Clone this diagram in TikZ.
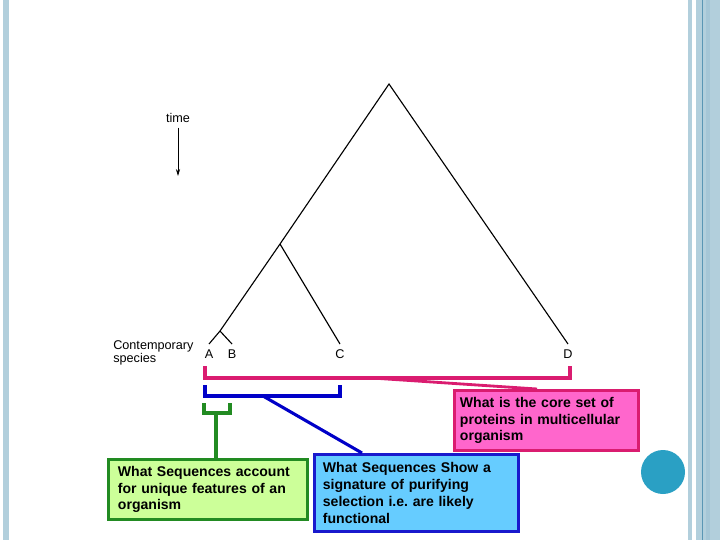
\documentclass[tikz,border=0pt]{standalone}
\usepackage{fontspec}
\setmainfont{Liberation Sans}
\usetikzlibrary{arrows.meta, calc}
\definecolor{stripblue}{RGB}{178,207,220}
\definecolor{stripdark}{RGB}{90,150,180}
\definecolor{dotblue}{RGB}{42,160,196}
\definecolor{pinkline}{RGB}{218,28,112}
\definecolor{pinkfill}{RGB}{255,102,204}
\definecolor{blueline}{RGB}{0,0,200}
\definecolor{bluefill}{RGB}{102,204,255}
\definecolor{greenline}{RGB}{34,139,34}
\definecolor{greenfill}{RGB}{204,255,153}

\begin{document}
\begin{tikzpicture}[x=0.025cm, y=-0.025cm,
    branch/.style={line width=0.8pt},
    leaf/.style={below, inner sep=4pt, font=\fontsize{9}{9.5}\selectfont},
    bracket/.style={line width=2.2pt},
    qbox/.style={rectangle, draw, line width=2pt, anchor=north west, align=left,
        font=\bfseries\fontsize{10}{12}\selectfont}
]
    % page and side strips
    \useasboundingbox (0,0) rectangle (720,540);
    \fill[white] (0,0) rectangle (720,540);
    \fill[stripblue] (3,0) rectangle (9,540);
    \fill[stripblue] (688,0) rectangle (692,540);
    \fill[stripblue] (696,0) rectangle (720,540);
    \fill[stripblue!85!stripdark] (706,0) rectangle (710,540);
    \draw[stripdark, line width=0.6pt] (702,0) -- (702,540);
    \fill[dotblue] (663,472) circle (22);

    % time arrow
    \node[font=\fontsize{9}{9.5}\selectfont] (time) at (178,118) {time};
    \coordinate (timeend) at (178,176);
    \draw[-{Stealth[length=5pt, width=3pt]}, line width=0.6pt] (time.south) -- (timeend);

    % tree
    \coordinate (root) at (389,84);
    \coordinate (nABC) at (280,244);
    \coordinate (nAB) at (220,331);
    \coordinate (tipA) at (209,344);
    \coordinate (tipB) at (232,344);
    \coordinate (tipC) at (340,344);
    \coordinate (tipD) at (568,344);
    \draw[branch] (tipA) -- (nAB) -- (nABC) -- (root) -- (tipD);
    \draw[branch] (nAB) -- (tipB);
    \draw[branch] (nABC) -- (tipC);
    \node[leaf] (A) at (tipA) {A};
    \node[leaf] (B) at (tipB) {B};
    \node[leaf] (C) at (tipC) {C};
    \node[leaf] (D) at (tipD) {D};
    \node[anchor=north west, align=left, inner sep=0pt,
        font=\fontsize{9}{9.6pt}\selectfont] (contemp) at (113,340) {Contemporary\\species};

    % question boxes
    \node[qbox, draw=pinkline, fill=pinkfill, minimum width=4.6cm, minimum height=1.5cm,
        inner xsep=3.6pt, text width=123pt] (pinkbox) at (453,389)
        {What is the core set of\\proteins in multicellular\\organism};
    \node[qbox, draw=blueline!90!white, fill=bluefill, minimum width=5.1cm, minimum height=1.925cm,
        inner xsep=5.7pt, text width=133pt] (bluebox) at (313,453)
        {What Sequences Show a\\signature of purifying\\selection i.e.\ are likely\\functional};
    \node[qbox, draw=greenline, fill=greenfill, minimum width=4.975cm, minimum height=1.5cm,
        inner xsep=6.4pt, text width=128pt] (greenbox) at (107,458)
        {What Sequences account\\for unique features of an\\organism};

    % brackets and connectors
    \coordinate (pinkL) at (205,366);
    \coordinate (pinkR) at (570,366);
    \coordinate (pinkmid) at (372,378);
    \draw[bracket, pinkline] (pinkL) -- (205,378) -- (570,378) -- (pinkR);
    \draw[pinkline, line width=2pt] (pinkmid) -- ([xshift=2.1cm]pinkbox.north west);

    \coordinate (blueL) at (205,385);
    \coordinate (blueR) at (340,385);
    \coordinate (bluemid) at (263,396);
    \draw[bracket, blueline] (blueL) -- (205,396) -- (340,396) -- (blueR);
    \draw[blueline, line width=2.2pt] (bluemid) -- ([xshift=1.225cm]bluebox.north west);

    \coordinate (greenL) at (204,403);
    \coordinate (greenR) at (230,403);
    \coordinate (greenmid) at (216,413);
    \draw[bracket, greenline] (greenL) -- (204,413) -- (230,413) -- (greenR);
    \draw[greenline, line width=2.2pt] (greenmid) -- (greenmid |- greenbox.north);
\end{tikzpicture}
\end{document}
